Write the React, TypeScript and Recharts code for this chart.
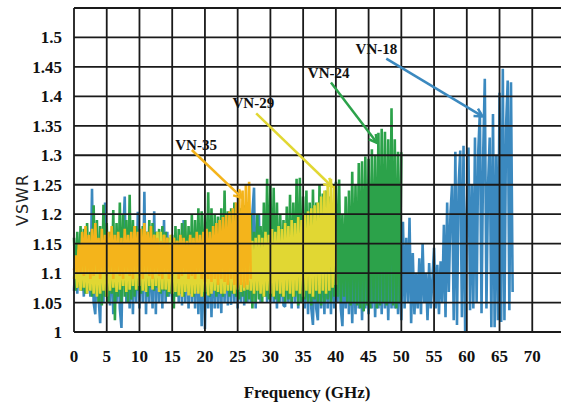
import { ComposedChart, Line, XAxis, YAxis, CartesianGrid, ReferenceLine, ReferenceDot, Label } from "recharts"

// samples are 0.25 GHz apart, starting at 0 GHz
const STEP = 0.25

const vn18 = [
  1.07, 1.13, 1.065, 1.14, 1.07, 1.13, 1.06, 1.15, 1.065, 1.14, 1.06, 1.243,
  1.05, 1.03, 1.15, 1.06, 1.015, 1.16, 1.05, 1.22, 1.06, 1.15, 1.045, 1.16,
  1.03, 1.15, 1.05, 1.16, 1.04, 1.007, 1.16, 1.23, 1.05, 1.15, 1.04, 1.17,
  1.03, 1.16, 1.05, 1.204, 1.04, 1.16, 1.05, 1.238, 1.03, 1.17, 1.05, 1.16,
  1.04, 1.205, 1.03, 1.17, 1.05, 1.16, 1.04, 1.19, 1.05, 1.17, 1.06, 1.16,
  1.05, 1.158, 1.06, 1.15, 1.05, 1.16, 1.045, 1.19, 1.05, 1.16, 1.04, 1.17,
  1.05, 1.16, 1.04, 1.17, 1.03, 1.16, 1.01, 1.17, 1.005, 1.16, 1.04, 1.17,
  1.025, 1.16, 1.04, 1.17, 1.04, 1.16, 1.032, 1.17, 1.05, 1.16, 1.045, 1.17,
  1.046, 1.16, 1.05, 1.17, 1.04, 1.16, 1.05, 1.18, 1.045, 1.17, 1.05, 1.19,
  1.05, 1.2, 1.245, 1.04, 1.19, 1.2, 1.05, 1.17, 1.06, 1.16, 1.05, 1.17,
  1.049, 1.16, 1.05, 1.15, 1.04, 1.16, 1.05, 1.15, 1.045, 1.043, 1.16, 1.05,
  1.15, 1.04, 1.16, 1.05, 1.15, 1.04, 1.16, 1.05, 1.15, 1.04, 1.16, 1.03,
  1.15, 1.04, 1.012, 1.15, 1.04, 1.02, 1.15, 1.04, 1.16, 1.03, 1.15, 1.04,
  1.16, 1.03, 1.15, 1.04, 1.13, 1.05, 1.13, 1.04, 1.01, 1.13, 1.04, 1.14,
  1.03, 1.15, 1.015, 1.14, 1.03, 1.15, 1.04, 1.14, 1.02, 1.15, 1.04, 1.14,
  1.03, 1.15, 1.04, 1.14, 1.025, 1.15, 1.04, 1.14, 1.03, 1.15, 1.04, 1.14,
  1.02, 1.15, 1.04, 1.14, 1.04, 1.15, 1.03, 1.14, 1.02, 1.187, 1.04, 1.16,
  1.05, 1.194, 1.015, 1.134, 1.03, 1.1, 1.04, 1.125, 1.03, 1.15, 1.05, 1.1,
  1.02, 1.117, 1.04, 1.09, 1.143, 1.04, 1.114, 1.03, 1.12, 1.05, 1.182, 1.025,
  1.22, 1.068, 1.2, 1.25, 1.02, 1.306, 1.012, 1.25, 1.308, 1.025, 1.316, 1.0,
  1.2, 1.313, 1.037, 1.25, 1.04, 1.33, 1.05, 1.306, 1.374, 1.032, 1.3, 1.43,
  1.04, 1.25, 1.33, 1.008, 1.37, 1.008, 1.3, 1.02, 1.406, 1.017, 1.447, 1.02,
  1.35, 1.427, 1.037, 1.424, 1.068,
]

const vn24 = [
  1.16, 1.07, 1.17, 1.075, 1.18, 1.07, 1.175, 1.065, 1.185, 1.07, 1.17, 1.06,
  1.215, 1.065, 1.19, 1.05, 1.18, 1.045, 1.216, 1.06, 1.185, 1.05, 1.17, 1.065,
  1.207, 1.02, 1.185, 1.06, 1.22, 1.05, 1.2, 1.06, 1.19, 1.05, 1.233, 1.055,
  1.19, 1.06, 1.18, 1.07, 1.175, 1.065, 1.18, 1.07, 1.17, 1.06, 1.19, 1.075,
  1.185, 1.07, 1.17, 1.075, 1.175, 1.065, 1.18, 1.07, 1.17, 1.06, 1.16, 1.065,
  1.165, 1.04, 1.18, 1.06, 1.175, 1.065, 1.185, 1.06, 1.19, 1.07, 1.18, 1.065,
  1.2, 1.06, 1.19, 1.07, 1.21, 1.065, 1.205, 1.06, 1.2, 1.065, 1.237, 1.06,
  1.21, 1.07, 1.2, 1.06, 1.196, 1.065, 1.21, 1.06, 1.24, 1.07, 1.205, 1.06,
  1.21, 1.065, 1.22, 1.06, 1.2, 1.055, 1.21, 1.06, 1.215, 1.05, 1.22, 1.055,
  1.2, 1.04, 1.17, 1.05, 1.2, 1.055, 1.18, 1.05, 1.22, 1.06, 1.26, 1.055,
  1.25, 1.06, 1.245, 1.055, 1.22, 1.05, 1.2, 1.06, 1.19, 1.05, 1.213, 1.055,
  1.233, 1.05, 1.22, 1.06, 1.26, 1.045, 1.262, 1.05, 1.23, 1.055, 1.24, 1.05,
  1.22, 1.045, 1.242, 1.055, 1.22, 1.05, 1.25, 1.045, 1.235, 1.05, 1.24, 1.055,
  1.23, 1.05, 1.2, 1.06, 1.255, 1.06, 1.259, 1.05, 1.2, 1.06, 1.23, 1.05,
  1.24, 1.045, 1.272, 1.05, 1.25, 1.045, 1.287, 1.04, 1.29, 1.035, 1.298, 1.045,
  1.294, 1.04, 1.31, 1.05, 1.3, 1.04, 1.338, 1.045, 1.345, 1.05, 1.34, 1.045,
  1.327, 1.05, 1.38, 1.045, 1.327, 1.04, 1.306, 1.05, 1.305,
]

const vn29 = [
  1.09, 1.12, 1.075, 1.14, 1.07, 1.15, 1.075, 1.145, 1.065, 1.15, 1.07, 1.14,
  1.065, 1.155, 1.06, 1.15, 1.065, 1.145, 1.07, 1.15, 1.06, 1.155, 1.07, 1.15,
  1.075, 1.14, 1.068, 1.15, 1.072, 1.145, 1.078, 1.15, 1.068, 1.155, 1.072, 1.15,
  1.078, 1.15, 1.072, 1.16, 1.078, 1.155, 1.07, 1.16, 1.068, 1.165, 1.078, 1.16,
  1.072, 1.165, 1.078, 1.17, 1.068, 1.17, 1.072, 1.165, 1.072, 1.16, 1.068, 1.165,
  1.065, 1.16, 1.068, 1.155, 1.062, 1.16, 1.06, 1.155, 1.068, 1.15, 1.062, 1.16,
  1.06, 1.155, 1.065, 1.15, 1.065, 1.155, 1.06, 1.15, 1.068, 1.15, 1.062, 1.16,
  1.065, 1.155, 1.07, 1.15, 1.068, 1.16, 1.065, 1.155, 1.065, 1.15, 1.07, 1.16,
  1.07, 1.155, 1.065, 1.15, 1.072, 1.16, 1.068, 1.155, 1.07, 1.15, 1.072, 1.16,
  1.07, 1.155, 1.065, 1.16, 1.07, 1.165, 1.065, 1.16, 1.06, 1.17, 1.07, 1.165,
  1.065, 1.175, 1.06, 1.17, 1.07, 1.18, 1.065, 1.175, 1.06, 1.185, 1.07, 1.18,
  1.065, 1.19, 1.06, 1.185, 1.07, 1.195, 1.065, 1.19, 1.06, 1.2, 1.07, 1.205,
  1.065, 1.21, 1.06, 1.215, 1.07, 1.22, 1.065, 1.23, 1.07, 1.24, 1.065, 1.25,
  1.07, 1.26, 1.075, 1.25, 1.08,
]

const vn35 = [
  1.105, 1.13, 1.1, 1.15, 1.1, 1.17, 1.095, 1.18, 1.1, 1.165, 1.09, 1.175,
  1.095, 1.185, 1.1, 1.16, 1.09, 1.175, 1.1, 1.165, 1.095, 1.17, 1.1, 1.18,
  1.09, 1.165, 1.1, 1.17, 1.095, 1.16, 1.09, 1.175, 1.1, 1.165, 1.095, 1.17,
  1.09, 1.18, 1.1, 1.17, 1.095, 1.175, 1.09, 1.185, 1.1, 1.17, 1.095, 1.18,
  1.09, 1.165, 1.1, 1.16, 1.095, 1.155, 1.09, 1.165, 1.1, 1.16, 1.09, 1.15,
  1.095, 1.16, 1.1, 1.155, 1.09, 1.165, 1.095, 1.16, 1.1, 1.155, 1.09, 1.165,
  1.095, 1.16, 1.09, 1.17, 1.1, 1.165, 1.09, 1.17, 1.085, 1.175, 1.09, 1.17,
  1.085, 1.18, 1.09, 1.185, 1.08, 1.19, 1.09, 1.195, 1.085, 1.2, 1.08, 1.205,
  1.09, 1.21, 1.08, 1.22, 1.075, 1.23, 1.08, 1.24, 1.075, 1.25, 1.08, 1.255,
  1.09,
]

const xTicks = [0, 5, 10, 15, 20, 25, 30, 35, 40, 45, 50, 55, 60, 65, 70]
const yTicks = [1, 1.05, 1.1, 1.15, 1.2, 1.25, 1.3, 1.35, 1.4, 1.45, 1.5]
const gridY = [...yTicks, 1.55]

const BLUE = "#3b89bf"
const GREEN = "#2ca24a"
const YELLOW = "#e1d733"
const ORANGE = "#f4b41b"

// drawn in this order, so the last one ends up on top
const series = [
  { name: "VN-18", color: BLUE, values: vn18 },
  { name: "VN-24", color: GREEN, values: vn24 },
  { name: "VN-29", color: YELLOW, values: vn29 },
  { name: "VN-35", color: ORANGE, values: vn35 },
]

// callouts: label position, arrow tail, arrow head (GHz, VSWR)
const callouts = [
  { name: "VN-35", color: ORANGE, label: [18.65, 1.317], from: [18.0, 1.309], to: [25.64, 1.228] },
  { name: "VN-29", color: YELLOW, label: [27.4, 1.388], from: [27.83, 1.371], to: [39.4, 1.247] },
  { name: "VN-24", color: GREEN, label: [38.9, 1.44], from: [39.25, 1.4235], to: [46.3, 1.321] },
  { name: "VN-18", color: BLUE, label: [46.2, 1.481], from: [47.7, 1.464], to: [62.4, 1.366] },
]

const W = 565
const H = 409
const serif = "'Liberation Serif', 'Times New Roman', serif"

const toPoints = (values: number[]) => values.map((v, i) => ({ freq: i * STEP, vswr: v }))

function Arrow(props: any) {
  const { x1, y1, x2, y2, stroke } = props
  const a = Math.atan2(y2 - y1, x2 - x1)
  const len = 9
  const spread = 0.5
  const ax = x2 - len * Math.cos(a - spread)
  const ay = y2 - len * Math.sin(a - spread)
  const bx = x2 - len * Math.cos(a + spread)
  const by = y2 - len * Math.sin(a + spread)
  return (
    <g>
      <line x1={x1} y1={y1} x2={x2} y2={y2} stroke={stroke} strokeWidth={2.5} />
      <polyline points={`${ax},${ay} ${x2},${y2} ${bx},${by}`} fill="none" stroke={stroke} strokeWidth={2.5} />
    </g>
  )
}

const fmt = (v: number) => String(Number(v.toFixed(2)))
const tickStyle = { fill: "#111", fontSize: 17, fontWeight: "bold", fontFamily: serif }

export default function App() {
  return (
    <div style={{ position: "absolute", left: 0, top: 0, width: 561, height: H, overflow: "hidden", background: "#fff" }}>
      <div style={{ position: "absolute", left: 0, top: 0 }}>
        <ComposedChart width={W} height={H} margin={{ top: 8, right: 0, bottom: 0, left: 0 }}>
          <XAxis
            type="number"
            dataKey="freq"
            domain={[0, 75]}
            ticks={xTicks}
            interval={0}
            height={77}
            axisLine={false}
            tickLine={false}
            tickSize={6}
            tickMargin={12}
            tick={tickStyle}
          >
            <Label
              content={() => (
                <text x={307} y={398} textAnchor="middle" fill="#111" fontSize={17} fontWeight="bold" fontFamily={serif}>
                  Frequency (GHz)
                </text>
              )}
            />
          </XAxis>
          <YAxis
            type="number"
            dataKey="vswr"
            domain={[1, 1.55]}
            ticks={yTicks}
            interval={0}
            width={74}
            axisLine={false}
            tickLine={false}
            tickSize={6}
            tickMargin={6}
            tickFormatter={fmt}
            tick={tickStyle}
          >
            <Label
              content={() => (
                <text
                  x={22}
                  y={200}
                  transform="rotate(-90 22 200)"
                  textAnchor="middle"
                  dominantBaseline="central"
                  fill="#222"
                  fontSize={16}
                  letterSpacing={1}
                  fontFamily="'DejaVu Sans', sans-serif"
                >
                  VSWR
                </text>
              )}
            />
          </YAxis>
          {series.map((s) => (
            <Line
              key={s.name}
              data={toPoints(s.values)}
              dataKey="vswr"
              name={s.name}
              type="linear"
              stroke={s.color}
              strokeWidth={2.6}
              strokeLinejoin="bevel"
              dot={false}
              activeDot={false}
              isAnimationActive={false}
            />
          ))}
        </ComposedChart>
      </div>

      {/* the grid sits above the traces in the original, so it gets its own layer */}
      <div style={{ position: "absolute", left: 0, top: 0 }}>
        <ComposedChart width={W} height={H} data={toPoints(vn18)} margin={{ top: 8, right: 0, bottom: 77, left: 74 }}>
          <XAxis type="number" dataKey="freq" domain={[0, 75]} ticks={xTicks} hide />
          <YAxis type="number" dataKey="vswr" domain={[1, 1.55]} ticks={gridY} hide />
          <CartesianGrid verticalValues={xTicks} horizontalValues={gridY} stroke="#1a1a1a" strokeWidth={1.8} />
          {callouts.map((c) => (
            <ReferenceLine
              key={c.name + "-arrow"}
              segment={[
                { x: c.from[0], y: c.from[1] },
                { x: c.to[0], y: c.to[1] },
              ]}
              stroke={c.color}
              shape={(p: any) => <Arrow {...p} stroke={c.color} />}
            />
          ))}
          {callouts.map((c) => (
            <ReferenceDot
              key={c.name + "-label"}
              x={c.label[0]}
              y={c.label[1]}
              r={0}
              shape={(p: any) => (
                <text
                  x={p.cx}
                  y={p.cy}
                  textAnchor="middle"
                  dominantBaseline="central"
                  fill="#111"
                  fontSize={15}
                  fontWeight="bold"
                  fontFamily={serif}
                >
                  {c.name}
                </text>
              )}
            />
          ))}
        </ComposedChart>
      </div>
    </div>
  )
}
